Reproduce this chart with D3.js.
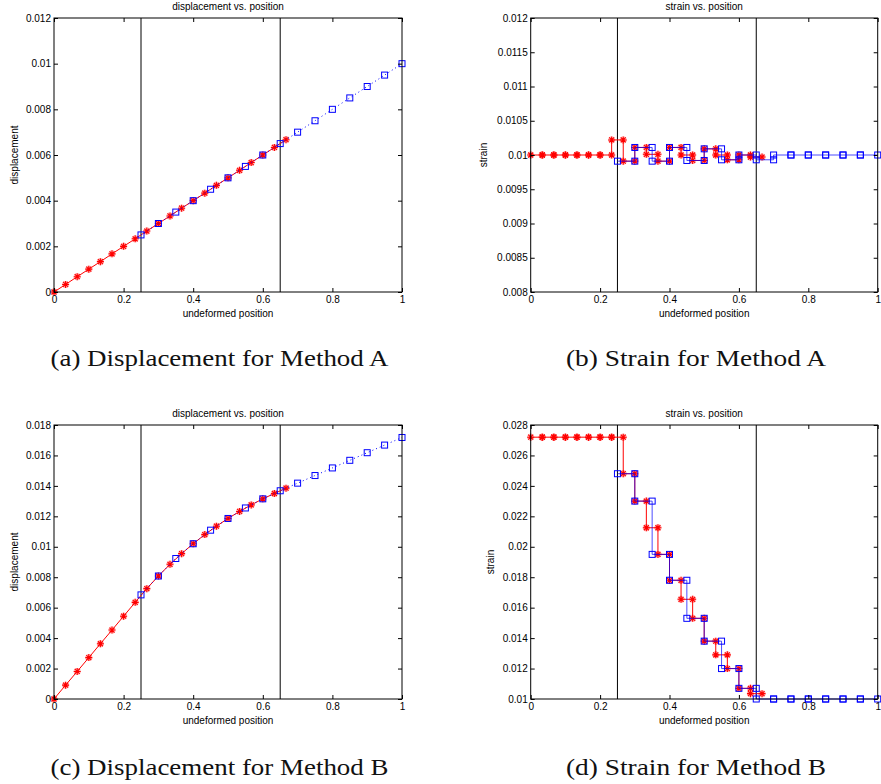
<!DOCTYPE html>
<html><head><meta charset="utf-8">
<script src="https://cdn.jsdelivr.net/npm/d3@7"></script>
<style>body{margin:0;background:#fff}svg{display:block}</style>
</head><body>
<svg id="fig" width="881" height="784"></svg>
<script>
// ---------- data ----------
const xRed = [0, 0.0333, 0.0667, 0.1, 0.1333, 0.1667, 0.2, 0.2333, 0.2667, 0.3, 0.3333,
              0.3667, 0.4, 0.4333, 0.4667, 0.5, 0.5333, 0.5667, 0.6, 0.6333, 0.6667];
const xBlue = [0.25, 0.3, 0.35, 0.4, 0.45, 0.5, 0.55, 0.6, 0.65, 0.7, 0.75, 0.8, 0.85, 0.9, 0.95, 1.0];
const interfaces = [0.25, 0.65];

const dispA_red = [0, 0.00033, 0.00067, 0.001, 0.00133, 0.00167, 0.002, 0.00233, 0.00267, 0.003, 0.00333,
                   0.00367, 0.004, 0.00433, 0.00467, 0.005, 0.00533, 0.00567, 0.006, 0.00633, 0.00667];
const dispA_blue = [0.0025, 0.003, 0.0035, 0.004, 0.0045, 0.005, 0.0055, 0.006, 0.0065, 0.007,
                    0.0075, 0.008, 0.0085, 0.009, 0.0095, 0.01];
const strainA_red = [0.01, 0.01, 0.01, 0.01, 0.01, 0.01, 0.01, 0.01022, 0.00991, 0.01011,
                     0.01001, 0.00991, 0.01011, 0.01000, 0.00992, 0.01009, 0.01000, 0.00993, 0.01000, 0.00997];
const strainA_blue = [0.00991, 0.01011, 0.00991, 0.01011, 0.00992, 0.01009, 0.00993, 0.01000, 0.00993,
                      0.01, 0.01, 0.01, 0.01, 0.01, 0.01];

const dispB_red = [0, 0.00091, 0.00181, 0.00272, 0.00363, 0.00453, 0.00544, 0.00635, 0.00725, 0.00808, 0.00885,
                   0.00955, 0.0102, 0.0108, 0.01135, 0.01186, 0.01232, 0.01275, 0.01315, 0.0135, 0.01385];
const dispB_blue = [0.00684, 0.00808, 0.00923, 0.0102, 0.01109, 0.01186, 0.01255, 0.01315, 0.01368,
                    0.01418, 0.01468, 0.01518, 0.01568, 0.01618, 0.01668, 0.01718];
const strainB_red = [0.0272, 0.0272, 0.0272, 0.0272, 0.0272, 0.0272, 0.0272, 0.0272, 0.0248, 0.0230,
                     0.02125, 0.0195, 0.0178, 0.01655, 0.0153, 0.0138, 0.0129, 0.0120, 0.0107, 0.01035];
const strainB_blue = [0.0248, 0.0230, 0.0195, 0.0178, 0.0153, 0.0138, 0.0120, 0.0107,
                      0.0100, 0.0100, 0.0100, 0.0100, 0.0100, 0.0100, 0.0100];

const xTicks = [0, 0.2, 0.4, 0.6, 0.8, 1];
const yTicksDispA = [0, 0.002, 0.004, 0.006, 0.008, 0.01, 0.012];
const yTicksStrainA = [0.008, 0.0085, 0.009, 0.0095, 0.01, 0.0105, 0.011, 0.0115, 0.012];
const yTicksDispB = [0, 0.002, 0.004, 0.006, 0.008, 0.01, 0.012, 0.014, 0.016, 0.018];
const yTicksStrainB = [0.01, 0.012, 0.014, 0.016, 0.018, 0.02, 0.022, 0.024, 0.026, 0.028];

const captions = ["(a) Displacement for Method A", "(b) Strain for Method A",
                  "(c) Displacement for Method B", "(d) Strain for Method B"];

// ---------- helpers ----------
const svg = d3.select("#fig");
const SANS = "'Liberation Sans', Arial, Helvetica, sans-serif";
const fmt = v => String(+v.toPrecision(6));

function nodesPts(xs, ys) { return xs.map((x, i) => [x, ys[i]]); }
function stairPts(xs, es) {
  const p = [];
  es.forEach((e, i) => { p.push([xs[i], e]); p.push([xs[i + 1], e]); });
  return p;
}

function panel(o) {
  const g = svg.append("g");
  const x = d3.scaleLinear().domain([0, 1]).range([o.l, o.r]);
  const y = d3.scaleLinear().domain(o.yDomain).range([o.b, o.t]);

  interfaces.forEach(v => {
    g.append("line").attr("x1", x(v)).attr("x2", x(v)).attr("y1", o.t).attr("y2", o.b)
      .attr("stroke", "#000").attr("stroke-width", 1);
  });

  const line = d3.line().x(d => x(d[0])).y(d => y(d[1]));

  g.append("path").attr("d", line(o.red)).attr("fill", "none")
    .attr("stroke", "#ff0000").attr("stroke-width", 1);
  const star = "M-3.5,0L3.5,0M0,-3.5L0,3.5M-2.5,-2.5L2.5,2.5M-2.5,2.5L2.5,-2.5";
  const rs = g.append("g");
  rs.selectAll("path.h").data(o.red).join("path").attr("class", "h")
    .attr("d", star).attr("transform", d => `translate(${x(d[0])},${y(d[1])})`)
    .attr("stroke", "#ff6060").attr("stroke-width", 2.6).attr("opacity", 0.45).attr("fill", "none");
  rs.selectAll("path.s").data(o.red).join("path").attr("class", "s")
    .attr("d", star).attr("transform", d => `translate(${x(d[0])},${y(d[1])})`)
    .attr("stroke", "#ff0000").attr("stroke-width", 1.1).attr("fill", "none");

  g.append("path").attr("d", line(o.blue)).attr("fill", "none")
    .attr("stroke", "#0000ff").attr("stroke-width", 1).attr("stroke-opacity", o.dotted ? 1 : 0.7)
    .attr("stroke-dasharray", o.dotted ? "1,3" : null);
  g.selectAll("rect.sq").data(o.blue).join("rect").attr("class", "sq")
    .attr("x", d => x(d[0]) - 3).attr("y", d => y(d[1]) - 3)
    .attr("width", 6).attr("height", 6).attr("fill", "none")
    .attr("stroke", "#0000ff").attr("stroke-width", 1);

  const tl = 4;
  const ax = g.append("g");
  const styleText = s => s.selectAll("text").attr("font-family", SANS).attr("font-size", 10).attr("fill", "#000");
  ax.append("g").attr("transform", `translate(0,${o.b})`)
    .call(d3.axisBottom(x).tickValues(xTicks).tickSize(-tl).tickPadding(4).tickFormat(fmt))
    .call(s => { s.select(".domain").remove(); styleText(s); });
  ax.append("g").attr("transform", `translate(0,${o.t})`)
    .call(d3.axisTop(x).tickValues(xTicks).tickSize(-tl).tickFormat(""))
    .call(s => s.select(".domain").remove());
  ax.append("g").attr("transform", `translate(${o.l},0)`)
    .call(d3.axisLeft(y).tickValues(o.yTicks).tickSize(-tl).tickPadding(3).tickFormat(fmt))
    .call(s => { s.select(".domain").remove(); styleText(s); });
  ax.append("g").attr("transform", `translate(${o.r},0)`)
    .call(d3.axisRight(y).tickValues(o.yTicks).tickSize(-tl).tickFormat(""))
    .call(s => s.select(".domain").remove());
  g.selectAll(".tick line").attr("stroke", "#000");
  g.append("rect").attr("x", o.l).attr("y", o.t).attr("width", o.r - o.l).attr("height", o.b - o.t)
    .attr("fill", "none").attr("stroke", "#000").attr("stroke-width", 1);

  const T = (tx, ty, s, rot) => g.append("text").attr("x", tx).attr("y", ty)
    .attr("text-anchor", "middle").attr("dominant-baseline", "central")
    .attr("font-family", SANS).attr("font-size", 10).attr("fill", "#000")
    .attr("transform", rot ? `rotate(-90,${tx},${ty})` : null).text(s);
  T((o.l + o.r) / 2, o.t - 12, o.title);
  T((o.l + o.r) / 2, o.b + 21, "undeformed position");
  T(o.ylx, (o.t + o.b) / 2, o.ylabel, true);
}

panel({ l: 54, r: 402, t: 18, b: 292, yDomain: [0, 0.012], yTicks: yTicksDispA,
        red: nodesPts(xRed, dispA_red), blue: nodesPts(xBlue, dispA_blue), dotted: true,
        title: "displacement vs. position", ylabel: "displacement", ylx: 14 });
panel({ l: 530.7, r: 877.7, t: 18, b: 292, yDomain: [0.008, 0.012], yTicks: yTicksStrainA,
        red: stairPts(xRed, strainA_red), blue: stairPts(xBlue, strainA_blue), dotted: false,
        title: "strain vs. position", ylabel: "strain", ylx: 483 });
panel({ l: 54, r: 402, t: 425, b: 699, yDomain: [0, 0.018], yTicks: yTicksDispB,
        red: nodesPts(xRed, dispB_red), blue: nodesPts(xBlue, dispB_blue), dotted: true,
        title: "displacement vs. position", ylabel: "displacement", ylx: 14 });
panel({ l: 530.7, r: 877.7, t: 425, b: 699, yDomain: [0.01, 0.028], yTicks: yTicksStrainB,
        red: stairPts(xRed, strainB_red), blue: stairPts(xBlue, strainB_blue), dotted: false,
        title: "strain vs. position", ylabel: "strain", ylx: 490 });

// captions (serif, LaTeX-like): fixed size, stretched to the measured width
const capPos = [[219.5, 366, 338], [696, 366, 260], [219.5, 775, 338], [696, 775, 260]];
captions.forEach((c, i) => {
  const [cx, cy, w] = capPos[i];
  svg.append("text").attr("x", cx).attr("y", cy).attr("text-anchor", "middle")
    .attr("font-family", "'Liberation Serif', 'Times New Roman', serif").attr("font-size", 23)
    .attr("textLength", w).attr("lengthAdjust", "spacingAndGlyphs")
    .attr("fill", "#111").text(c);
});
</script>
</body></html>
